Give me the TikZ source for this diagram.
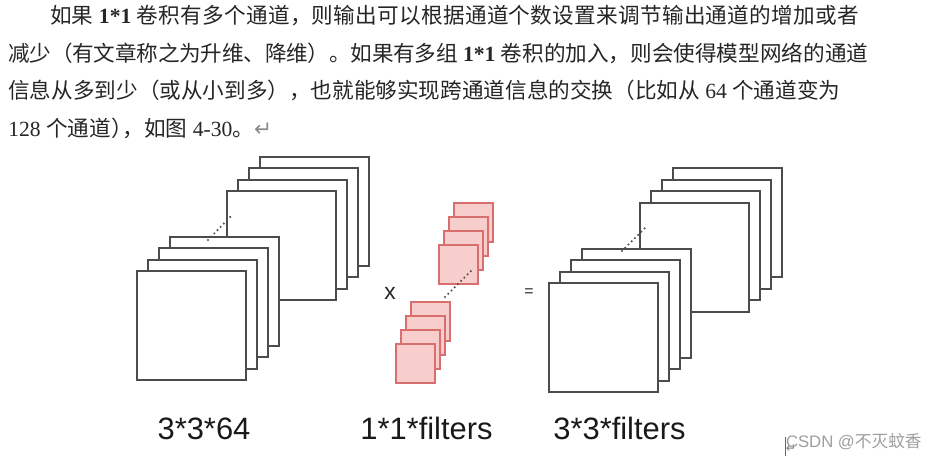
\documentclass[tikz,border=0pt]{standalone}
\usepackage{fontspec}
\setmainfont{Liberation Serif}
\setsansfont{Liberation Sans}
\newfontfamily\cjk{Noto Sans CJK SC}
\newfontfamily\cjkwide[LetterSpace=1.3]{Noto Sans CJK SC}
\newfontfamily\cjknarrow[LetterSpace=-1]{Noto Sans CJK SC}
\newfontfamily\arrowfont{DejaVu Sans}
\definecolor{redline}{RGB}{216,110,110}
\definecolor{redfill}{RGB}{248,206,204}
\tikzset{
  sheet/.style={draw=black!70,fill=white,line width=0.9pt},
  redsheet/.style={draw=redline,fill=redfill,line width=0.9pt},
  dots/.style={line cap=round,dash pattern=on 0pt off 2.6pt,line width=1.3pt,black!70},
  para/.style={anchor=base west,inner sep=0pt,font=\fontsize{12.3pt}{12.3pt}\selectfont,text=black!85},
  caption/.style={anchor=base,inner sep=0pt,font=\sffamily\fontsize{17.6pt}{17.6pt}\selectfont,text=black!90},
  opsign/.style={inner sep=0pt,font=\sffamily\fontsize{13pt}{13pt}\selectfont,text=black!85},
  eqsign/.style={inner sep=0pt,font=\sffamily\fontsize{9pt}{9pt}\selectfont,text=black!85},
}
\begin{document}
\begin{tikzpicture}[x=0.02cm,y=-0.02cm]
\useasboundingbox (0,0) rectangle (926,456);
\clip (0,0) rectangle (926,456);
\def\S{109}    % large side
\def\s{39}     % small side
% paragraph
\node[para] (lineA) at (50,23.5) {{\cjk 如果} \textbf{1*1} {\cjkwide 卷积有多个通道，则输出可以根据通道个数设置来调节输出通道的增加或者}};
\node[para] (lineB) at (8,62) {{\cjknarrow 减少（有文章称之为升维、降维）。如果有多组} \textbf{1*1} {\cjk 卷积的加入，则会使得模型网络的通道}};
\node[para] (lineC) at (8,98.5) {{\cjk 信息从多到少（或从小到多），也就能够实现跨通道信息的交换（比如从} 64 {\cjk 个通道变为}};
\node[para] (lineD) at (8,136) {128 {\cjk 个通道）\hspace{-5.7pt}，如图} 4-30{\cjk 。}{\arrowfont\color{black!45}↵}};
% left stacks
\foreach \dx/\dy in {33/34,22/23,11/11,0/0}
  \draw[sheet] (227+\dx,191-\dy) rectangle ++(\S,\S);
\foreach \dx/\dy in {33/34,22/23,11/11,0/0}
  \draw[sheet] (137+\dx,271-\dy) rectangle ++(\S,\S);
\coordinate (leftA) at (208,240);
\coordinate (leftB) at (233,214);
\draw[dots] (leftA) -- (leftB);
% filters
\foreach \dx/\dy in {15/42,10/28,5/14,0/0}
  \draw[redsheet] (439+\dx,245-\dy) rectangle ++(\s,\s);
\foreach \dx/\dy in {15/42,10/28,5/14,0/0}
  \draw[redsheet] (396+\dx,344-\dy) rectangle ++(\s,\s);
\coordinate (midA) at (445,297);
\coordinate (midB) at (471,271);
\draw[dots] (midA) -- (midB);
% right stacks
\foreach \dx/\dy in {33/35,22/23,11/12,0/0}
  \draw[sheet] (640+\dx,203-\dy) rectangle ++(\S,\S);
\foreach \dx/\dy in {33/34,22/23,11/11,0/0}
  \draw[sheet] (549+\dx,283-\dy) rectangle ++(\S,\S);
\coordinate (rightA) at (622,251);
\coordinate (rightB) at (647,226);
\draw[dots] (rightA) -- (rightB);
% signs and captions
\node[opsign] (times) at (390,293) {x};
\node[eqsign] (equals) at (529,293) {=};
\node[caption] (capA) at (204,439) {3*3*64};
\node[caption] (capB) at (426.5,439) {1*1*filters};
\node[caption] (capC) at (619.5,439) {3*3*filters};
% cursor and watermark
\draw[black!60,line width=0.5pt] (785,437) -- (785,456);
\node[inner sep=0pt,font=\arrowfont\fontsize{7pt}{7pt}\selectfont,text=black!50] (mark) at (791,449) {↵};
\node[anchor=base east,inner sep=0pt,font=\sffamily\fontsize{9.5pt}{9.5pt}\selectfont,text=black!38] (water) at (922,447) {CSDN @{\cjk 不灭蚊香}};
\end{tikzpicture}
\end{document}
